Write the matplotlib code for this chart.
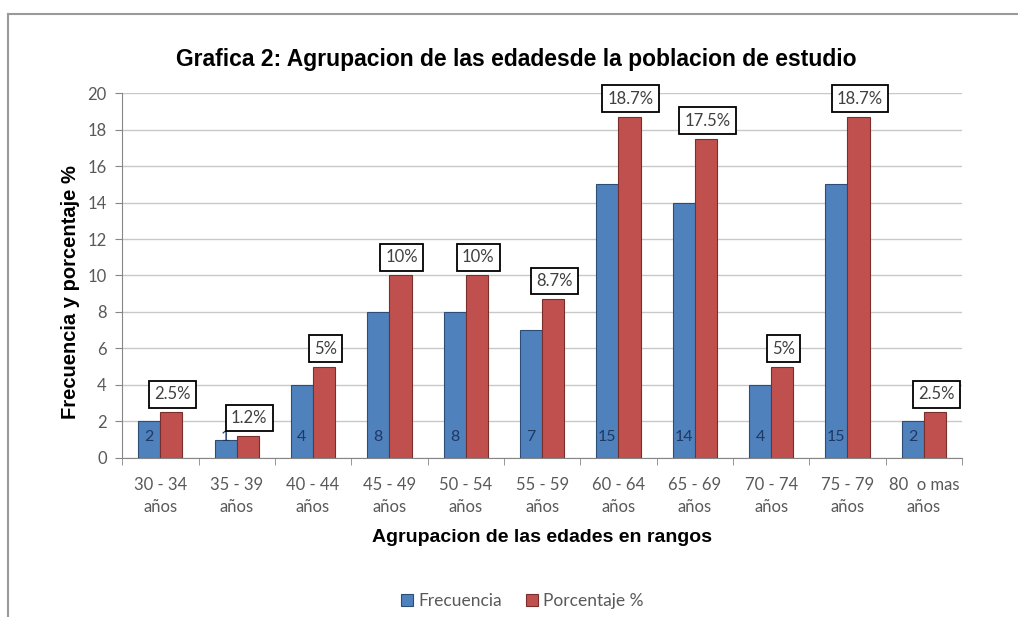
import numpy as np
import matplotlib
matplotlib.use("Agg")
import matplotlib.pyplot as plt
from matplotlib.lines import Line2D

# age groups and counts
rangos = ["30 - 34\naños", "35 - 39\naños", "40 - 44\naños", "45 - 49\naños",
          "50 - 54\naños", "55 - 59\naños", "60 - 64\naños", "65 - 69\naños",
          "70 - 74\naños", "75 - 79\naños", "80  o mas\naños"]
frecuencia = [2, 1, 4, 8, 8, 7, 15, 14, 4, 15, 2]
porcentaje = [2.5, 1.2, 5, 10, 10, 8.7, 18.7, 17.5, 5, 18.7, 2.5]
yticks = list(range(0, 21, 2))

AZUL = "#4F81BD"
ROJO = "#C0504D"
GRIS = "#595959"

fig = plt.figure(figsize=(10.18, 6.17), dpi=100)
ax = fig.add_axes([0.12, 0.258, 0.825, 0.591])

x = np.arange(len(rangos))
w = 0.29
b1 = ax.bar(x - w / 2, frecuencia, w, color=AZUL, edgecolor="#2C4D75",
            linewidth=0.8, label="Frecuencia", zorder=3)
b2 = ax.bar(x + w / 2, porcentaje, w, color=ROJO, edgecolor="#7A2E2C",
            linewidth=0.8, label="Porcentaje %", zorder=3)

# counts written at the foot of the blue bars
for xi, v in zip(x - w / 2, frecuencia):
    ax.annotate(str(v), (xi, 0), xytext=(0, 15), textcoords="offset points",
                ha="center", va="center", fontsize=11.5, color="#1F3864",
                family="Lato", zorder=4)

# boxed percentage labels above the red bars
for xi, v in zip(x + w / 2, porcentaje):
    ax.annotate(f"{v:g}%", (xi, v), xytext=(1, 13), textcoords="offset points",
                ha="center", va="center", fontsize=12, color="#404040",
                family="Lato", zorder=5,
                bbox=dict(boxstyle="square,pad=0.32", fc="white", ec="black", lw=1.3))

ax.set_xlim(-0.5, len(rangos) - 0.5)
ax.set_ylim(0, 20)
ax.set_yticks(yticks)
ax.set_yticklabels([str(t) for t in yticks], fontsize=12, color=GRIS, family="Lato")
ax.set_xticks(x)
ax.set_xticklabels(rangos, fontsize=12, color=GRIS, family="Lato", linespacing=1.45)
ax.set_xticks(np.arange(-0.5, len(rangos), 1), minor=True)
ax.tick_params(axis="x", which="major", length=0, pad=14)
ax.tick_params(axis="x", which="minor", length=5, color="#868686")
ax.tick_params(axis="y", length=5, color="#868686", pad=6)

ax.grid(axis="y", color="#C8C8C8", linewidth=1, zorder=0)
for s in ("top", "right"):
    ax.spines[s].set_visible(False)
for s in ("left", "bottom"):
    ax.spines[s].set_color("#868686")

ax.set_xlabel("Agrupacion de las edades en rangos", fontsize=14,
              fontweight="bold", family="Liberation Sans")
ax.xaxis.set_label_coords(0.5, -0.195)
ax.set_ylabel("Frecuencia y porcentaje %", fontsize=14.5, fontweight="bold",
              family="Liberation Sans")
ax.yaxis.set_label_coords(-0.05, 0.455)

fig.text(0.507, 0.903, "Grafica 2: Agrupacion de las edadesde la poblacion de estudio",
         ha="center", va="center", fontsize=16.5, fontweight="bold",
         family="Liberation Sans")

fig.legend(handles=[b1, b2], loc="center", bbox_to_anchor=(0.513, 0.026),
           ncol=2, frameon=False, handlelength=0.7, handleheight=0.7,
           handletextpad=0.3, columnspacing=1.4, prop={"family": "Lato", "size": 12.5})
for t in fig.legends[0].get_texts():
    t.set_color(GRIS)

# outer chart frame (top and left edges)
fig.add_artist(Line2D([0.008, 1.0], [0.977, 0.977], transform=fig.transFigure,
                      color="#9A9A9A", lw=1.5))
fig.add_artist(Line2D([0.008, 0.008], [0.0, 0.977], transform=fig.transFigure,
                      color="#9A9A9A", lw=1.5))

fig.savefig("out.png", dpi=100)
